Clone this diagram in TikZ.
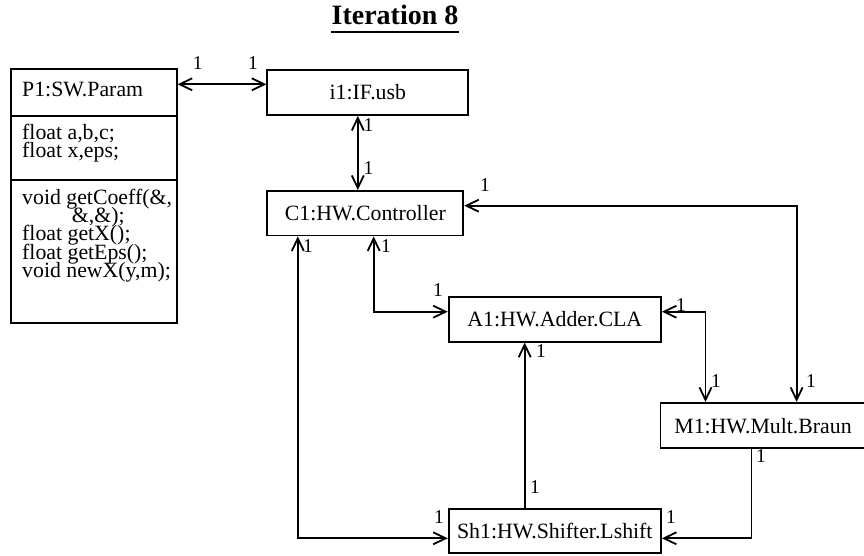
\documentclass[tikz,border=0pt]{standalone}
\usepackage{fontspec}
\setmainfont{Liberation Serif}
\usetikzlibrary{arrows.meta}
\newcommand\mybodyfont{\fontsize{21.8pt}{18.3pt}\selectfont}
\newcommand\mylabelfont{\fontsize{19.5pt}{20pt}\selectfont}
\newcommand\mytitlefont{\fontsize{28pt}{30pt}\selectfont\bfseries}
\begin{document}
\begin{tikzpicture}[x=1pt,y=-1pt,
  box/.style={draw, line width=1.8pt, inner sep=0pt, font=\mybodyfont},
  txt/.style={anchor=base west, inner sep=0pt, font=\mybodyfont},
  mult/.style={inner sep=0pt, font=\mylabelfont},
  conn/.style={line width=1.8pt},
  tipb/.tip={Straight Barb[length=12.5pt,width=12pt]},
  dbl/.style={conn, tipb-tipb},
  sgl/.style={conn, -tipb}]

\fill[white] (0,0) rectangle (864,556);
\useasboundingbox (0,0) rectangle (864,556);

% title
\node[font=\mytitlefont, anchor=base, inner sep=0pt] (title) at (395,25) {Iteration 8};
\draw[line width=2pt] ([yshift=-7pt]title.base west) -- ([yshift=-7pt]title.base east);

% P1 class box
\node[box, minimum width=166pt, minimum height=253.4pt] (P1) at (93.7,196) {};
\coordinate (d1) at (0,116);
\coordinate (d2) at (0,180);
\draw[line width=1.8pt] (P1.west |- d1) -- (P1.east |- d1);
\draw[line width=1.8pt] (P1.west |- d2) -- (P1.east |- d2);
\node[txt] (p1name) at (22,96.7) {P1:SW.Param};
\node[txt] (p1a) at (22,139.5) {float a,b,c;};
\node[txt] (p1b) at (22,157.8) {float x,eps;};
\node[txt] (p1m1) at (22,204.3) {void getCoeff(\&,};
\node[txt] (p1m1b) at (71.7,222.6) {\&,\&);};
\node[txt] (p1m2) at (22,240.9) {float getX();};
\node[txt] (p1m3) at (22,259.2) {float getEps();};
\node[txt] (p1m4) at (22,277.5) {void newX(y,m);};

% other boxes
\node[box, minimum width=201pt, minimum height=45pt] (i1) at (367.8,92.5) {i1:IF.usb};
\node[box, minimum width=196pt, minimum height=44.5pt] (C1) at (365.3,213.2) {C1:HW.Controller};
\node[box, minimum width=212.3pt, minimum height=45pt] (A1) at (554.8,319.2) {A1:HW.Adder.CLA};
\node[box, minimum width=205pt, minimum height=45.5pt] (M1) at (763,425.6) {M1:HW.Mult.Braun};
\node[box, minimum width=212.3pt, minimum height=44.3pt] (Sh1) at (554.8,531.2) {Sh1:HW.Shifter.Lshift};

% routing coordinates
\coordinate (yPI) at (0,84.3);
\coordinate (xIC) at (357.8,0);
\coordinate (yCM) at (0,205.7);
\coordinate (xCM) at (796.6,0);
\coordinate (xCA) at (373.7,0);
\coordinate (yA) at (0,311.7);
\coordinate (xCS) at (297.8,0);
\coordinate (yS) at (0,538.3);
\coordinate (xAM) at (705.5,0);
\coordinate (xSA) at (524.7,0);
\coordinate (xMS) at (751.4,0);

% connectors
\draw[dbl] (P1.east |- yPI) -- (i1.west |- yPI);
\draw[dbl] (i1.south -| xIC) -- (C1.north -| xIC);
\draw[dbl] (C1.east |- yCM) -| (M1.north -| xCM);
\draw[dbl] (C1.south -| xCA) |- (A1.west |- yA);
\draw[dbl] (C1.south -| xCS) |- (Sh1.west |- yS);
\draw[dbl] (A1.east |- yA) -| (M1.north -| xAM);
\draw[sgl] (Sh1.north -| xSA) -- (A1.south -| xSA);
\draw[sgl] (M1.south -| xMS) |- (Sh1.east |- yS);

% multiplicities
\node[mult] (m1) at (197.7,63.3) {1};
\node[mult] (m2) at (253,63.3) {1};
\node[mult] (m3) at (368.5,125) {1};
\node[mult] (m4) at (368.5,168) {1};
\node[mult] (m5) at (485,185) {1};
\node[mult] (m6) at (811,381) {1};
\node[mult] (m7) at (308,246) {1};
\node[mult] (m8) at (386,246) {1};
\node[mult] (m9) at (438,290) {1};
\node[mult] (m10) at (681,305) {1};
\node[mult] (m11) at (541,351) {1};
\node[mult] (m12) at (716,381) {1};
\node[mult] (m13) at (761,456) {1};
\node[mult] (m14) at (535,487) {1};
\node[mult] (m15) at (439,517) {1};
\node[mult] (m16) at (671,517) {1};
\end{tikzpicture}
\end{document}
